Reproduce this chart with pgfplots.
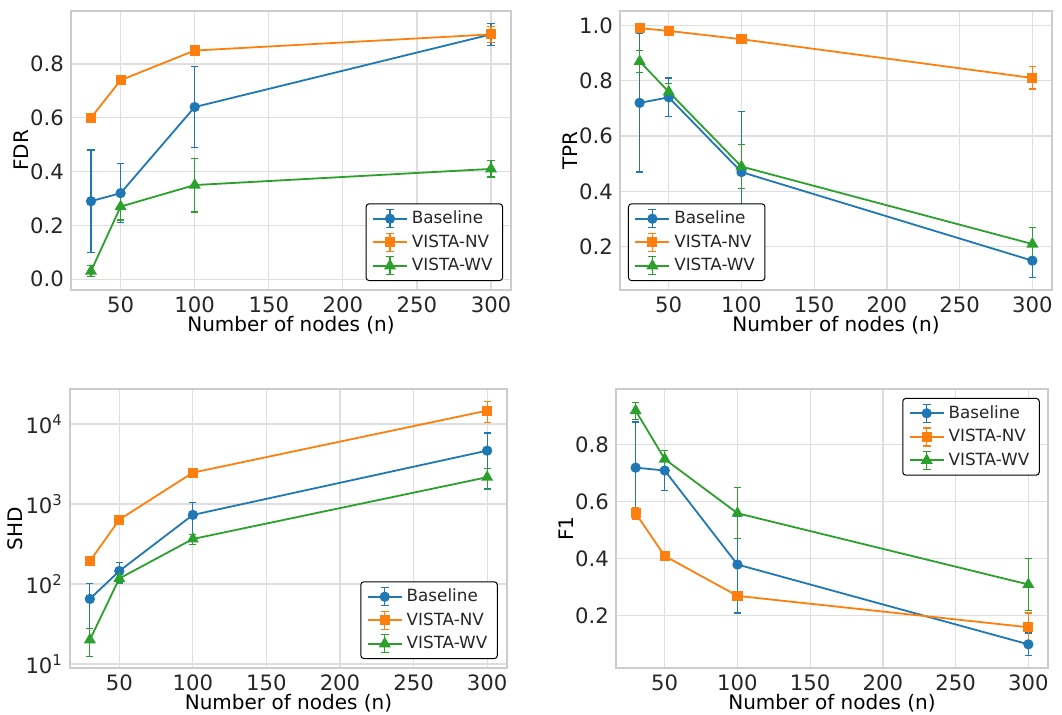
\documentclass[border=0pt]{standalone}
\usepackage{pgfplots}
\pgfplotsset{compat=1.18}
\usepackage{fontspec}
\setmainfont{DejaVu Sans}

\definecolor{tabblue}{HTML}{1F77B4}
\definecolor{taborange}{HTML}{FF7F0E}
\definecolor{tabgreen}{HTML}{2CA02C}
\definecolor{gridgray}{HTML}{DEDEDE}
\definecolor{framegray}{HTML}{CCCCCC}
\definecolor{txtgray}{HTML}{262626}

\pgfplotsset{
  panel/.style={
    scale only axis, anchor=south west,
    xmin=16.5, xmax=313.5, xtick={50,100,...,300},
    grid=major, grid style={color=gridgray, line width=0.6pt},
    axis line style={color=framegray, line width=0.6pt},
    tick style={draw=none},
    tick label style={font=\fontsize{10.6}{12}\selectfont, text=txtgray},
    label style={font=\fontsize{11}{13}\selectfont, text=txtgray},
    xlabel={Number of nodes (n)},
    every axis x label/.style={at={(axis description cs:0.5,0)}, anchor=center, yshift=-17.5pt},
    % rotated frame: yshift moves the label to the left
    every axis y label/.style={at={(axis description cs:0,0.5)}, anchor=center, rotate=90, yshift=25pt},
    /pgf/number format/assume math mode=true,
    legend style={font=\fontsize{8.4}{10}\selectfont, text=txtgray, draw=black, line width=0.5pt,
      rounded corners=1.5pt, inner xsep=3pt, inner ysep=1.5pt, row sep=0pt},
    legend cell align=left,
    legend image code/.code={
      \draw[##1, mark=none] (0pt,0pt) -- (17pt,0pt);
      \draw[##1, mark=none, line width=0.6pt] (8.5pt,-4.5pt) -- (8.5pt,4.5pt)
        (6.5pt,-4.5pt) -- (10.5pt,-4.5pt) (6.5pt,4.5pt) -- (10.5pt,4.5pt);
      \draw[##1, only marks] plot coordinates {(8.5pt,0pt)};
    },
    every axis plot/.append style={line width=0.9pt},
    error bars/y dir=both, error bars/y explicit,
    error bars/error bar style={line width=0.6pt},
    error bars/error mark options={rotate=90, mark size=1.8pt, line width=0.6pt},
  },
  fixed1/.style={yticklabel style={/pgf/number format/fixed, /pgf/number format/precision=1,
    /pgf/number format/fixed zerofill}},
  sbase/.style={color=tabblue, mark=*, mark size=2.1pt},
  snv/.style={color=taborange, mark=square*, mark size=2.1pt},
  swv/.style={color=tabgreen, mark=triangle*, mark size=2.6pt},
}

\begin{document}
\begin{tikzpicture}
\useasboundingbox (0,0) rectangle (531pt,357.5pt);

% FDR
\begin{axis}[panel, fixed1, at={(35.5pt,212.5pt)}, width=220pt, height=139.5pt,
  ymin=-0.04, ymax=0.997, ytick={0,0.2,0.4,0.6,0.8}, ylabel={FDR},
  legend style={at={(0.982,0.032)}, anchor=south east}]
\addplot[sbase] coordinates {(30,0.29) +- (0,0.19) (50,0.32) +- (0,0.11) (100,0.64) +- (0,0.15) (300,0.91) +- (0,0.04)};
\addplot[snv] coordinates {(30,0.60) +- (0,0.015) (50,0.74) +- (0,0.008) (100,0.85) +- (0,0.008) (300,0.91) +- (0,0.03)};
\addplot[swv] coordinates {(30,0.03) +- (0,0.02) (50,0.27) +- (0,0.05) (100,0.35) +- (0,0.10) (300,0.41) +- (0,0.03)};
\legend{Baseline,VISTA-NV,VISTA-WV}
\end{axis}

% TPR
\begin{axis}[panel, fixed1, at={(310pt,212.5pt)}, width=216pt, height=139.5pt,
  ymin=0.044, ymax=1.052, ytick={0.2,0.4,0.6,0.8,1.0}, ylabel={TPR},
  legend style={at={(0.0185,0.032)}, anchor=south west}]
\addplot[sbase] coordinates {(30,0.72) +- (0,0.25) (50,0.74) +- (0,0.07) (100,0.47) +- (0,0.22) (300,0.15) +- (0,0.06)};
\addplot[snv] coordinates {(30,0.99) +- (0,0.01) (50,0.98) +- (0,0.005) (100,0.95) +- (0,0.005) (300,0.81) +- (0,0.04)};
\addplot[swv] coordinates {(30,0.87) +- (0,0.04) (50,0.76) +- (0,0.03) (100,0.49) +- (0,0.08) (300,0.21) +- (0,0.06)};
\legend{Baseline,VISTA-NV,VISTA-WV}
\end{axis}

% SHD
\begin{axis}[panel, at={(35pt,23.5pt)}, width=218.5pt, height=139.5pt,
  ymode=log, ymin=8.9, ymax=27400, ytick={10,100,1000,10000},
  yticklabels={10\textsuperscript{1},10\textsuperscript{2},10\textsuperscript{3},10\textsuperscript{4}},
  minor ytick={}, ylabel={SHD}, ylabel style={yshift=2.5pt},
  legend style={at={(0.979,0.032)}, anchor=south east}]
\addplot[sbase] coordinates {(30,65) +- (0,37) (50,145) +- (0,40) (100,730) +- (0,310) (300,4640) +- (0,3080)};
\addplot[snv] coordinates {(30,192) +- (0,10) (50,637) +- (0,30) (100,2465) +- (0,120) (300,14700) +- (0,4200)};
\addplot[swv] coordinates {(30,20) +- (0,7.5) (50,117) +- (0,15) (100,365) +- (0,55) (300,2160) +- (0,640)};
\legend{Baseline,VISTA-NV,VISTA-WV}
\end{axis}

% F1
\begin{axis}[panel, fixed1, at={(308pt,23.5pt)}, width=216pt, height=139.5pt,
  ymin=0.017, ymax=0.996, ytick={0.2,0.4,0.6,0.8}, ylabel={F1},
  legend style={at={(0.981,0.968)}, anchor=north east}]
\addplot[sbase] coordinates {(30,0.72) +- (0,0.16) (50,0.71) +- (0,0.07) (100,0.38) +- (0,0.17) (300,0.10) +- (0,0.04)};
\addplot[snv] coordinates {(30,0.56) +- (0,0.02) (50,0.41) +- (0,0.01) (100,0.27) +- (0,0.01) (300,0.16) +- (0,0.05)};
\addplot[swv] coordinates {(30,0.92) +- (0,0.03) (50,0.75) +- (0,0.03) (100,0.56) +- (0,0.09) (300,0.31) +- (0,0.09)};
\legend{Baseline,VISTA-NV,VISTA-WV}
\end{axis}
\end{tikzpicture}
\end{document}
